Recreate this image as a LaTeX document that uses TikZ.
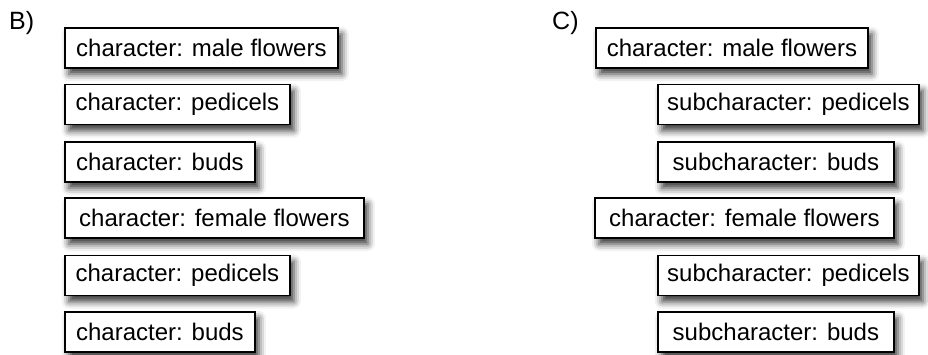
\documentclass[tikz,border=0pt]{standalone}
\usepackage{fontspec}
\setmainfont{Liberation Sans}
\usetikzlibrary{shadows.blur}

\tikzset{
  charbox/.style={
    draw=black, line width=1.8pt, fill=white, anchor=west,
    minimum height=40pt, inner xsep=0pt, inner ysep=0pt,
    font=\fontsize{24}{28}\selectfont,
    blur shadow={shadow xshift=4pt, shadow yshift=-6pt,
                 shadow blur radius=7pt, shadow opacity=80}
  },
  panel/.style={anchor=north west, inner sep=0pt,
    font=\fontsize{25}{28}\selectfont}
}

\begin{document}
\begin{tikzpicture}[x=1pt, y=-1pt]
  \useasboundingbox (0,0) rectangle (928,354);

  % panel B: flat list of characters
  \node[panel] (labB) at (9,11) {B)};
  \node[charbox, minimum width=273pt] (b1) at (64,48)    {character: male flowers};
  \node[charbox, minimum width=225pt] (b2) at (64,104.5) {character: pedicels};
  \node[charbox, minimum width=190pt] (b3) at (64,162)   {character: buds};
  \node[charbox, minimum width=299pt] (b4) at (64,218)   {character: female flowers};
  \node[charbox, minimum width=225pt] (b5) at (64,275.5) {character: pedicels};
  \node[charbox, minimum width=190pt] (b6) at (64,332)   {character: buds};

  % panel C: characters with nested subcharacters
  \node[panel] (labC) at (552,11) {C)};
  \node[charbox, minimum width=272pt] (c1) at (595,48)    {character: male flowers};
  \node[charbox, minimum width=261pt] (c2) at (657,104.5) {subcharacter: pedicels};
  \node[charbox, minimum width=236pt] (c3) at (657,162)   {subcharacter: buds};
  \node[charbox, minimum width=299pt] (c4) at (594,218)   {character: female flowers};
  \node[charbox, minimum width=261pt] (c5) at (657,275.5) {subcharacter: pedicels};
  \node[charbox, minimum width=236pt] (c6) at (657,332)   {subcharacter: buds};
\end{tikzpicture}
\end{document}
